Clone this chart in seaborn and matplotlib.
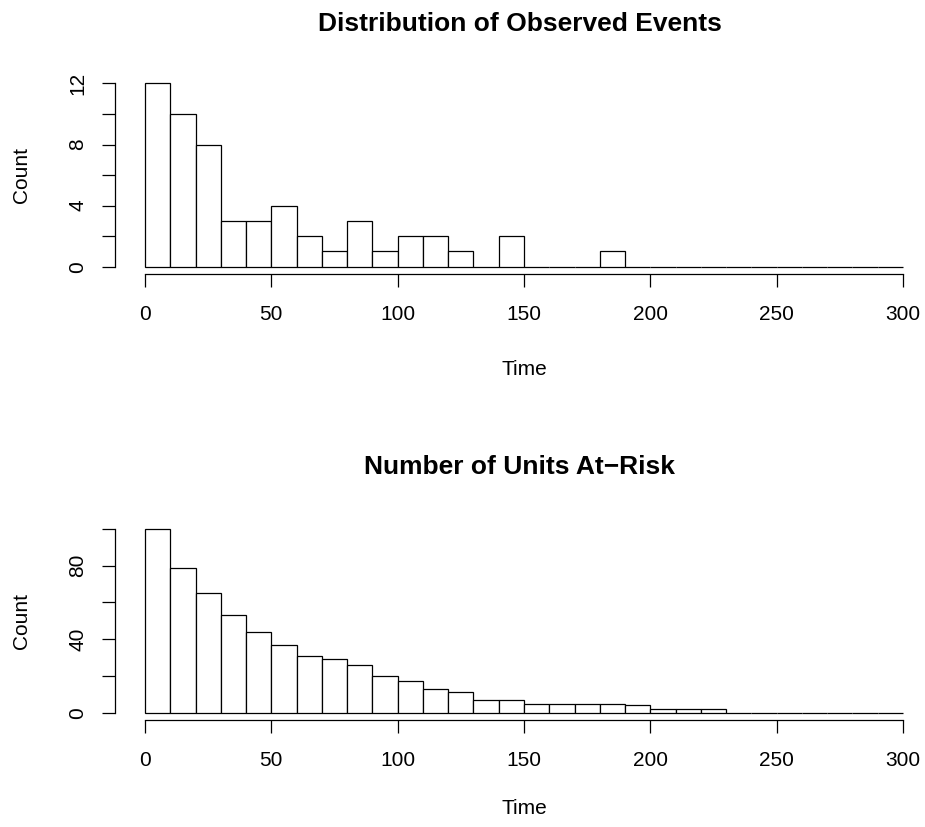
import numpy as np
import pandas as pd
import matplotlib
matplotlib.use("Agg")
import matplotlib.pyplot as plt
import seaborn as sns

# ---- data ----
bin_width = 10
bin_starts = list(range(0, 300, bin_width))
events_counts = [12, 10, 8, 3, 3, 4, 2, 1, 3, 1, 2, 2, 1, 0, 2,
                 0, 0, 0, 1, 0, 0, 0, 0, 0, 0, 0, 0, 0, 0, 0]
at_risk_counts = [100, 79, 65, 53, 44, 37, 31, 29, 26, 20, 17, 13, 11, 7, 7,
                  5, 5, 5, 5, 4, 2, 2, 2, 0, 0, 0, 0, 0, 0, 0]
x_ticks = [0, 50, 100, 150, 200, 250, 300]
top_yticks = [0, 2, 4, 6, 8, 10, 12]
top_ylabels = ["0", "", "4", "", "8", "", "12"]
bot_yticks = [0, 20, 40, 60, 80, 100]
bot_ylabels = ["0", "", "40", "", "80", ""]
titles = ["Distribution of Observed Events", "Number of Units At\u2212Risk"]

sns.set_theme(style="white")
plt.rcParams['font.family'] = ['Liberation Sans', 'DejaVu Sans']

W, H = 925, 827
fig = plt.figure(figsize=(W / 100, H / 100), dpi=100)
fig.patch.set_facecolor("white")

def fx(px):
    return px / W

def fy(py):
    return 1 - py / H

panels = [
    dict(counts=events_counts, ymax=12, yticks=top_yticks, ylabels=top_ylabels,
         y0=266.7, ytop=83.5, title=titles[0], title_y=24, xlab_y=369),
    dict(counts=at_risk_counts, ymax=100, yticks=bot_yticks, ylabels=bot_ylabels,
         y0=712.7, ytop=529.0, title=titles[1], title_y=467, xlab_y=808),
]

x0_px, x300_px = 145.0, 903.0
ppu_x = (x300_px - x0_px) / 300.0
xlim = (-12, 312)
left_px = x0_px + xlim[0] * ppu_x
right_px = x0_px + xlim[1] * ppu_x

for p in panels:
    ppu_y = (p["y0"] - p["ytop"]) / p["ymax"]
    ylim = (-0.04 * p["ymax"], 1.04 * p["ymax"])
    bottom_px = p["y0"] - ylim[0] * ppu_y
    top_px = p["y0"] - ylim[1] * ppu_y
    ax = fig.add_axes([fx(left_px), fy(bottom_px), fx(right_px) - fx(left_px),
                       fy(top_px) - fy(bottom_px)])
    ax.set_facecolor("white")
    df = pd.DataFrame({"time": [b + bin_width / 2 for b in bin_starts],
                       "count": p["counts"]})
    sns.histplot(data=df, x="time", weights="count", binwidth=bin_width,
                 binrange=(0, 300), ax=ax,
                 color="white", edgecolor="black", linewidth=0.9, alpha=1.0)
    ax.set_xlim(*xlim)
    ax.set_ylim(*ylim)
    for s in ["top", "right"]:
        ax.spines[s].set_visible(False)
    ax.spines["left"].set_bounds(0, p["ymax"])
    ax.spines["bottom"].set_bounds(0, 300)
    for s in ["left", "bottom"]:
        ax.spines[s].set_color("black")
        ax.spines[s].set_linewidth(0.9)
    ax.set_xticks(x_ticks)
    ax.set_xticklabels([str(t) for t in x_ticks])
    ax.set_yticks(p["yticks"])
    ax.set_yticklabels(p["ylabels"])
    ax.tick_params(axis="both", direction="out", length=9.5, width=0.9,
                   color="black", labelsize=15, labelcolor="black",
                   bottom=True, left=True, top=False, right=False)
    ax.tick_params(axis="x", pad=13)
    ax.tick_params(axis="y", pad=10, labelrotation=90)
    for lab in ax.get_yticklabels():
        lab.set_verticalalignment("center")
    ax.set_xlabel("")
    ax.set_ylabel("")
    fig.text(fx(520), fy(p["title_y"]), p["title"], ha="center", va="center",
             fontsize=19, fontweight="bold", color="black")
    fig.text(fx(524), fy(p["xlab_y"]), "Time", ha="center", va="center",
             fontsize=15, color="black")
    fig.text(fx(22), fy((p["y0"] + p["ytop"]) / 2), "Count", ha="center",
             va="center", rotation=90, fontsize=15, color="black")
    ax.grid(False)

fig.savefig("out.png", dpi=100, facecolor="white")
